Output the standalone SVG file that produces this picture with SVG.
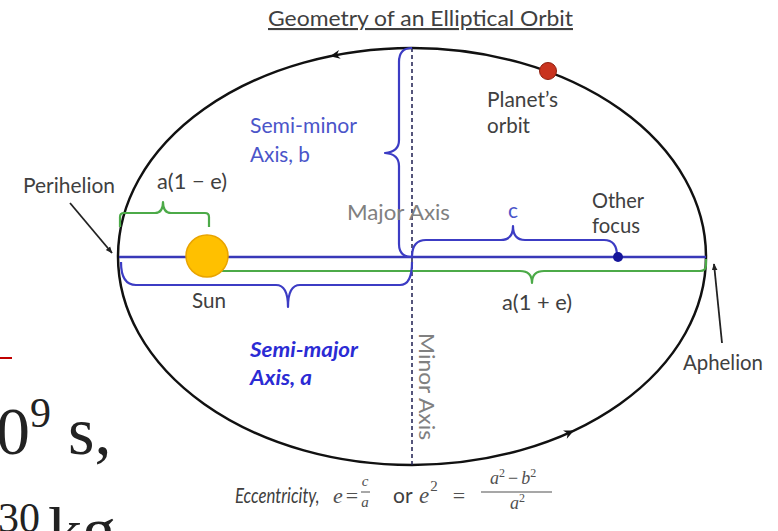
<svg xmlns="http://www.w3.org/2000/svg" width="778" height="531" viewBox="0 0 778 531">
<defs>
<style>
.lbl{font-family:Lato,"Liberation Sans",sans-serif;font-size:21px;fill:#404040}
.blue{fill:#4b55c9}
.gray{fill:#808080}
.bi{font-weight:bold;font-style:italic;fill:#2b2bd4}
.brb{fill:none;stroke:#3c3cc4;stroke-width:2.2;stroke-linejoin:round}
.brg{fill:none;stroke:#4caa48;stroke-width:2.2;stroke-linejoin:round}
.math{font-family:"Liberation Serif",serif;font-style:italic;fill:#505050}
.eq{font-family:"Liberation Serif",serif;fill:#505050}
.ser{font-family:"Liberation Serif",serif;fill:#222}
</style>
<marker id="arr" viewBox="0 0 10 10" refX="9" refY="5" markerWidth="7" markerHeight="7" orient="auto" markerUnits="userSpaceOnUse"><path d="M0,1 L10,5 L0,9 Z" fill="#222"/></marker>
<path id="ah" d="M0,0 L-10,-4.5 L-7,0 L-10,4.5 Z" fill="#111"/>
</defs>
<rect width="778" height="531" fill="#fff"/>

<g id="title">
<text class="lbl" x="268" y="26" textLength="305" lengthAdjust="spacingAndGlyphs" text-decoration="underline">Geometry of an Elliptical Orbit</text>
</g>

<g id="orbit">
<ellipse cx="412" cy="256.5" rx="294" ry="208.5" fill="none" stroke="#111" stroke-width="2.5"/>
<use href="#ah" transform="translate(330,56.3) rotate(168.7)"/>
<use href="#ah" transform="translate(574,430.5) rotate(-24.7)"/>
</g>

<g id="minor-axis">
<line x1="412" y1="48" x2="412" y2="465" stroke="#1e1e50" stroke-width="1.5" stroke-dasharray="4 3"/>
<text class="lbl gray" transform="translate(419,333) rotate(90)" textLength="107" lengthAdjust="spacingAndGlyphs">Minor Axis</text>
</g>

<g id="connectors">
<path class="brg" d="M207,271 L520,271 Q532,271 532,283 Q532,271 544,271 L700,271 Q706,271 706,265 L706,259"/>
<path class="brg" d="M120,227 L120,217 Q120,213 124,213 L155,213 Q163,213 163,202 Q163,213 171,213 L205,213 Q209,213 209,217 L209,227"/>
<line x1="119" y1="257" x2="706" y2="257" stroke="#3838b8" stroke-width="2.5"/>
<path class="brb" d="M121,262 Q121,285 136,285 L276,285 Q288,285 288,307 Q288,285 300,285 L400,285 Q412,285 412,262"/>
<path class="brb" d="M412,48 Q399,48 399,62 L399,140 Q399,152 385,153 Q399,154 399,166 L399,244 Q399,257 412,257"/>
<path class="brb" d="M412,257 Q412,240 426,240 L501,240 Q513,240 513,226 Q513,240 525,240 L604,240 Q617,240 617,256"/>
<line x1="70" y1="203" x2="112" y2="253" stroke="#222" stroke-width="1.8" marker-end="url(#arr)"/>
<line x1="722" y1="343" x2="714" y2="264" stroke="#222" stroke-width="1.8" marker-end="url(#arr)"/>
</g>

<g id="sun">
<circle cx="207" cy="256" r="21" fill="#FFC000" stroke="#E9A400" stroke-width="1.5"/>
<text class="lbl" x="192" y="308" textLength="34" lengthAdjust="spacingAndGlyphs">Sun</text>
</g>

<g id="planet">
<circle cx="548" cy="71" r="8.5" fill="#C9331F" stroke="#8f1f10" stroke-width="1"/>
<text class="lbl" x="487" y="107" textLength="71" lengthAdjust="spacingAndGlyphs">Planet’s</text>
<text class="lbl" x="487" y="133" textLength="43" lengthAdjust="spacingAndGlyphs">orbit</text>
</g>

<g id="focus">
<circle cx="618" cy="257" r="5" fill="#15159a"/>
<text class="lbl" x="592" y="208" textLength="52" lengthAdjust="spacingAndGlyphs">Other</text>
<text class="lbl" x="592" y="233" textLength="48" lengthAdjust="spacingAndGlyphs">focus</text>
</g>

<g id="labels">
<text class="lbl blue" x="250" y="133" textLength="107" lengthAdjust="spacingAndGlyphs">Semi-minor</text>
<text class="lbl blue" x="250" y="162" textLength="60" lengthAdjust="spacingAndGlyphs">Axis, b</text>
<text class="lbl" x="23" y="193" textLength="92" lengthAdjust="spacingAndGlyphs">Perihelion</text>
<text class="lbl" x="157" y="189" textLength="70" lengthAdjust="spacingAndGlyphs">a(1 − e)</text>
<text class="lbl gray" x="347" y="220" textLength="103" lengthAdjust="spacingAndGlyphs">Major Axis</text>
<text class="lbl blue" x="508" y="218">c</text>
<text class="lbl" x="502" y="310" textLength="70" lengthAdjust="spacingAndGlyphs">a(1 + e)</text>
<text class="lbl bi" x="250" y="357" textLength="108" lengthAdjust="spacingAndGlyphs">Semi-major</text>
<text class="lbl bi" x="250" y="385" textLength="62" lengthAdjust="spacingAndGlyphs">Axis, a</text>
<text class="lbl" x="683" y="370" textLength="80" lengthAdjust="spacingAndGlyphs">Aphelion</text>
</g>

<g id="formula">
<text class="lbl" transform="translate(235,503) scale(0.8,1)" font-style="italic" fill="#505050" font-size="19">Eccentricity,</text>
<text class="math" x="333" y="503" font-size="22">e<tspan font-style="normal" dx="3">=</tspan></text>
<text class="math" x="365" y="486" font-size="15" text-anchor="middle">c</text>
<line x1="361" y1="492" x2="370" y2="492" stroke="#505050" stroke-width="1"/>
<text class="math" x="365" y="507" font-size="15" text-anchor="middle">a</text>
<text class="lbl" x="393" y="503" fill="#505050">or</text>
<text class="math" x="419" y="503" font-size="23">e<tspan font-style="normal" font-size="15" dx="1" dy="-12">2</tspan><tspan font-style="normal" font-size="22" dx="15" dy="12">=</tspan></text>
<text class="math" x="490" y="484" font-size="18">a<tspan font-style="normal" font-size="12" dy="-7">2</tspan><tspan font-style="normal" dx="3" dy="7">−</tspan><tspan dx="3">b</tspan><tspan font-style="normal" font-size="12" dy="-7">2</tspan></text>
<line x1="481" y1="492" x2="552" y2="492" stroke="#505050" stroke-width="1.2"/>
<text class="math" x="510" y="509" font-size="18">a<tspan font-style="normal" font-size="12" dy="-7">2</tspan></text>
</g>

<g id="background-text">
<line x1="0" y1="358" x2="12" y2="358" stroke="#c00000" stroke-width="2"/>
<text class="ser" x="-4" y="454" font-size="68">0<tspan font-size="42" dy="-27">9</tspan><tspan dy="27"> s,</tspan></text>
<text class="ser" x="-2" y="532" font-size="42">30</text>
<text class="ser" x="48" y="554" font-size="68">kg</text>
</g>
</svg>
